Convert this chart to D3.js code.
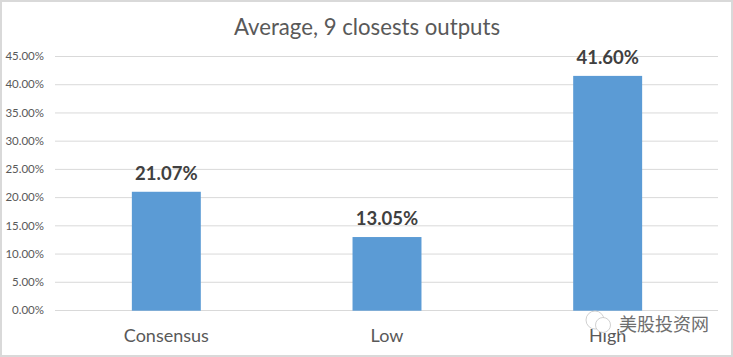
<!DOCTYPE html>
<html>
<head>
<meta charset="utf-8">
<script src="https://cdn.jsdelivr.net/npm/d3@7"></script>
<style>
    html, body { margin: 0; padding: 0; background: #fff; }
    svg { display: block; }
    text { font-family: Lato, "Open Sans", sans-serif; }
</style>
</head>
<body>
<svg id="chart"></svg>
<script>
const categories = ['Consensus', 'Low', 'High'];
const values = [21.07, 13.05, 41.60];
const ticks = [0, 5, 10, 15, 20, 25, 30, 35, 40, 45];

const width = 733, height = 357;
const margin = {top: 56, right: 15, bottom: 47, left: 55};
const inner_width = width - margin.left - margin.right;
const inner_height = height - margin.top - margin.bottom;

const svg = d3.select('#chart')
    .attr('width', width)
    .attr('height', height);

// outer frame
svg.append('rect')
    .attr('x', 1).attr('y', 1)
    .attr('width', width - 2).attr('height', height - 2)
    .attr('fill', '#fff')
    .attr('stroke', '#d9d9d9')
    .attr('stroke-width', 2);

const chart = svg.append('g')
    .attr('transform', `translate(${margin.left}, ${margin.top})`);

const xscale = d3.scaleBand()
    .domain(categories)
    .range([1, inner_width])
    .paddingInner(0.6875)
    .paddingOuter(0.34375);

const yscale = d3.scaleLinear()
    .domain([0, 45])
    .range([inner_height, 0]);

const yaxis = d3.axisLeft(yscale)
    .tickValues(ticks)
    .tickSize(-inner_width)
    .tickPadding(11)
    .tickFormat(d => d.toFixed(2) + '%');

const xaxis = d3.axisBottom(xscale)
    .tickSize(0)
    .tickPadding(19);

const yaxis_group = chart.append('g').call(yaxis);
yaxis_group.select('.domain').remove();
yaxis_group.selectAll('line').attr('stroke', '#d9d9d9').attr('stroke-width', 1);
yaxis_group.selectAll('text')
    .attr('fill', '#595959')
    .style('font-size', '11.5px');

// bars sit a little under the gridline row in the original
chart.append('g')
    .attr('transform', 'translate(0, 0.7)')
    .selectAll('.bar')
    .data(values)
    .join('rect')
    .attr('class', 'bar')
    .attr('x', (d, i) => xscale(categories[i]))
    .attr('y', d => yscale(d))
    .attr('width', xscale.bandwidth())
    .attr('height', d => inner_height - yscale(d))
    .attr('fill', '#5b9bd5');

chart.selectAll('.value')
    .data(values)
    .join('text')
    .attr('class', 'value')
    .attr('x', (d, i) => xscale(categories[i]) + xscale.bandwidth() / 2)
    .attr('y', d => yscale(d) - 11)
    .attr('text-anchor', 'middle')
    .attr('fill', '#404040')
    .style('font-size', '18.5px')
    .style('font-weight', 'bold')
    .text(d => d.toFixed(2) + '%');

const xaxis_group = chart.append('g')
    .attr('transform', `translate(0, ${inner_height})`)
    .call(xaxis);
xaxis_group.select('.domain').remove();
xaxis_group.selectAll('text')
    .attr('fill', '#595959')
    .style('font-size', '18px');

svg.append('text')
    .attr('x', 367)
    .attr('y', 34.5)
    .attr('text-anchor', 'middle')
    .attr('fill', '#595959')
    .style('font-size', '22.2px')
    .text('Average, 9 closests outputs');

// watermark in the corner
const mark = svg.append('g');
mark.append('circle').attr('cx', 595).attr('cy', 320).attr('r', 9)
    .attr('fill', '#fff').attr('stroke', '#c4c4c4').attr('stroke-width', 0.8);
mark.append('circle').attr('cx', 603).attr('cy', 325).attr('r', 7.5)
    .attr('fill', '#fff').attr('stroke', '#c4c4c4').attr('stroke-width', 0.8);
mark.append('text')
    .attr('x', 619)
    .attr('y', 331)
    .attr('fill', '#6e6e6e')
    .attr('stroke', '#fff')
    .attr('stroke-width', 2)
    .attr('paint-order', 'stroke')
    .style('font-family', '"Noto Sans CJK SC"')
    .style('font-size', '18px')
    .text('美股投资网');
</script>
</body>
</html>
